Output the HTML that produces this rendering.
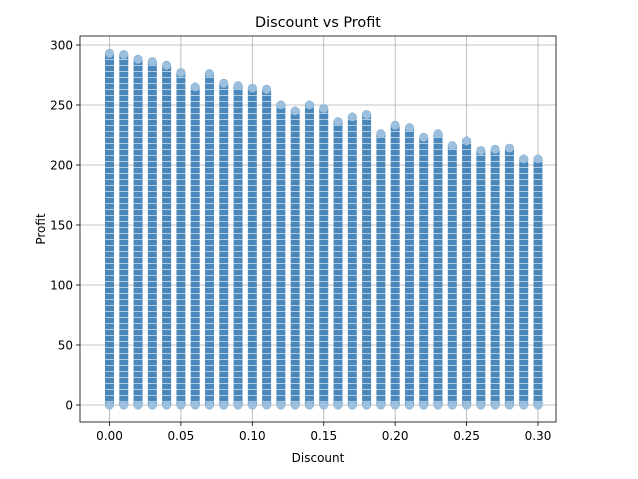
<!DOCTYPE html>
<html><head><meta charset="utf-8"><style>
body{margin:0;background:#fff;font-family:"Liberation Sans","DejaVu Sans",sans-serif}
svg text{font-family:"DejaVu Sans","Liberation Sans",sans-serif}
</style></head><body>
<svg id="c" width="638" height="474"></svg>
<script>
const discounts=[0.00,0.01,0.02,0.03,0.04,0.05,0.06,0.07,0.08,0.09,0.10,0.11,0.12,0.13,0.14,0.15,0.16,0.17,0.18,0.19,0.20,0.21,0.22,0.23,0.24,0.25,0.26,0.27,0.28,0.29,0.30];
const maxProfit=[293,292,288,286,283,277,265,276,268,266,264,263,250,245,250,247,236,240,242,226,233,231,223,226,216,220,212,213,214,205,205];
const minProfit=[0,0,0,0,0,0,0,0,0,0,0,0,0,0,0,0,0,0,0,0,0,0,0,0,0,0,0,0,0,0,0];
const xTicks=[0,0.05,0.10,0.15,0.20,0.25,0.30];
const xTickLabels=["0.00","0.05","0.10","0.15","0.20","0.25","0.30"];
const yTicks=[0,50,100,150,200,250,300];

const NS="http://www.w3.org/2000/svg";
const svg=document.getElementById('c');
const L=80,R=556,T=36,B=422;
const xs=v=>109.5+v*(538-109.5)/0.30;
const ys=v=>405-v*1.2;
function el(t,a,p){const e=document.createElementNS(NS,t);for(const k in a)e.setAttribute(k,a[k]);(p||svg).appendChild(e);return e;}

const defs=el('defs',{});
const pat=el('pattern',{id:'stripe',width:10,height:6,patternUnits:'userSpaceOnUse'},defs);
el('rect',{x:0,y:0,width:10,height:6,fill:'#3a7db5'},pat);
el('line',{x1:0,y1:5.5,x2:10,y2:5.5,stroke:'#a8c8e0','stroke-width':1},pat);

const title=el('text',{x:318,y:27,'text-anchor':'middle','font-size':14.4,fill:'#000'});
title.textContent='Discount vs Profit';



const gGrid=el('g',{});


xTicks.forEach((t,i)=>{
  el('line',{x1:xs(t),x2:xs(t),y1:T,y2:B,stroke:'#b0b0b0','stroke-width':0.8},gGrid);
  el('line',{x1:xs(t),x2:xs(t),y1:B,y2:B+4,stroke:'#000','stroke-width':0.8});
  const tx=el('text',{x:xs(t),y:B+18,'text-anchor':'middle','font-size':12,fill:'#000'});
  tx.textContent=xTickLabels[i];
  
  
});
yTicks.forEach(t=>{
  el('line',{x1:L,x2:R,y1:ys(t),y2:ys(t),stroke:'#b0b0b0','stroke-width':0.8},gGrid);
  el('line',{x1:L-4,x2:L,y1:ys(t),y2:ys(t),stroke:'#000','stroke-width':0.8});
  const tx=el('text',{x:L-7,y:ys(t)+4.5,'text-anchor':'end','font-size':12,fill:'#000'});
  tx.textContent=String(t);
  
  
});

const gPts=el('g',{});


discounts.forEach((d,i)=>{
  const cx=xs(d), top=ys(maxProfit[i]), bot=ys(minProfit[i]);
  const r=el('rect',{x:cx-4.5,y:top-4.5,width:9,height:bot-top+9,rx:4.5,fill:'url(#stripe)',opacity:0.92},gPts);
  
  
  const c1=el('circle',{cx:cx,cy:top,r:4.3,fill:'#9bbfdc'},gPts);
  
  
  el('circle',{cx:cx,cy:bot,r:4.3,fill:'#9bbfdc'},gPts);
});

const frame=el('rect',{x:L,y:T,width:R-L,height:B-T,fill:'none',stroke:'#000','stroke-width':0.8});



const xl=el('text',{x:318,y:462,'text-anchor':'middle','font-size':12,fill:'#000'});
xl.textContent='Discount';


const yl=el('text',{x:0,y:0,'text-anchor':'middle','font-size':12,fill:'#000',transform:'translate(45,229) rotate(-90)'});
yl.textContent='Profit';


</script>
</body></html>
